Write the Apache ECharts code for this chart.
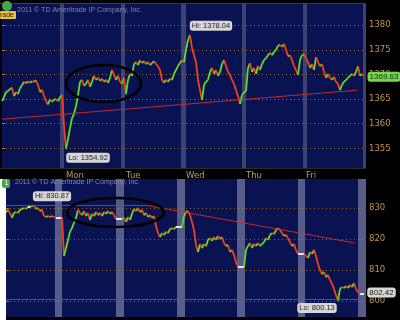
<!DOCTYPE html>
<html><head><meta charset="utf-8">
<script src="https://cdn.jsdelivr.net/npm/echarts@6/dist/echarts.min.js"></script>
<style>html,body{margin:0;padding:0;background:#000;}#c{width:400px;height:320px;}</style>
</head><body><div id="c"></div>
<script>
// ---- data ----
const dayLabels = ['Mon', 'Tue', 'Wed', 'Thu', 'Fri'];
const copyrightText = '2011 \u00a9 TD Ameritrade IP Company, Inc.';
// upper panel (index level, ~2-bar steps)
const spxPrices = [
1364.6,1365.4,1366.4,1366.6,1367.0,1367.3,1365.6,1366.4,1366.0,1367.2,
1367.8,1368.5,1368.2,1368.6,1368.3,1368.6,1368.5,1368.8,1367.9,1366.4,
1366.9,1365.6,1364.6,1363.9,1365.0,1364.4,1364.9,1365.0,1364.6,1365.4,
1365.8,1359.5,1354.92,1356.9,1359.1,1361.1,1362.0,1363.6,1365.8,1368.5,
1368.9,1367.7,1368.1,1368.9,1367.5,1368.5,1369.7,1368.9,1369.3,1368.7,
1369.1,1368.5,1368.9,1368.3,1369.3,1370.9,1369.9,1368.9,1369.7,1368.5,
1368.1,1369.3,1366.0,1368.9,1370.1,1369.7,1372.1,1372.5,1371.9,1372.9,
1372.3,1372.7,1372.1,1372.5,1371.9,1372.3,1372.7,1372.1,1371.7,1370.9,
1368.9,1368.3,1368.9,1368.5,1369.1,1368.9,1370.1,1370.9,1371.7,1372.3,
1372.9,1372.5,1375.0,1377.0,1378.04,1375.4,1373.9,1372.5,1368.9,1366.8,
1364.8,1367.9,1368.5,1368.9,1370.5,1371.3,1370.1,1370.9,1369.7,1370.5,
1372.1,1372.9,1371.7,1370.5,1369.9,1368.9,1368.1,1366.8,1365.6,1364.0,
1365.8,1366.4,1366.6,1371.3,1372.3,1370.5,1371.3,1370.1,1371.7,1370.9,
1372.1,1372.9,1373.3,1373.9,1374.4,1373.9,1374.6,1375.0,1375.8,1376.0,
1375.6,1376.2,1375.0,1373.7,1373.9,1372.9,1371.7,1370.9,1369.9,1372.9,
1373.9,1374.1,1373.3,1372.5,1371.3,1372.1,1370.9,1373.5,1372.5,1371.7,
1372.1,1370.5,1369.3,1370.1,1369.3,1368.9,1369.5,1368.5,1368.1,1366.8,
1367.9,1368.5,1368.9,1369.3,1369.7,1370.1,1369.7,1370.5,1371.7,1369.7,
1370.1,1369.63];
// lower panel
const rutPrices = [
828.7,829.4,828.4,826.8,828.4,828.7,828.4,829.4,829.7,830.0,
829.7,830.3,830.3,830.6,830.87,829.7,830.0,829.0,829.4,827.4,
827.1,827.4,827.1,827.4,827.1,826.9,826.9,826.9,826.9,814.5,
817.1,819.7,822.3,823.5,825.2,826.8,829.4,828.4,827.7,829.0,
827.4,828.4,826.1,828.1,827.4,828.7,827.7,828.4,827.4,828.7,
828.1,829.0,828.1,828.7,827.7,826.5,826.5,826.5,826.5,826.8,
825.5,827.1,826.1,828.1,829.7,829.0,830.0,828.7,829.4,827.7,
828.4,827.1,827.7,826.8,827.4,824.2,821.9,820.6,821.9,821.3,
822.3,821.9,823.2,823.5,823.2,823.9,823.9,823.9,823.9,827.4,
828.7,829.0,827.7,825.5,822.9,818.1,815.8,818.4,817.1,818.4,
817.7,819.7,820.3,819.4,820.6,819.7,821.0,820.0,820.6,818.7,
817.7,818.1,815.8,816.5,814.8,812.6,811.0,811.0,811.0,811.0,
816.5,817.7,818.7,817.1,818.4,817.7,818.7,817.7,818.4,819.0,
820.3,819.7,821.3,821.9,821.6,822.9,823.5,822.9,821.9,821.0,
821.3,820.3,819.0,817.7,818.4,816.5,815.2,815.2,815.2,815.2,
814.5,813.9,815.8,815.2,816.5,814.5,811.9,810.0,808.7,809.4,
807.7,808.4,806.8,805.5,803.9,801.9,800.13,803.9,804.5,804.2,
804.8,804.2,805.2,804.5,805.8,803.9,802.9,802.42,802.42,802.42];
// extended-hours bands (bar index ranges)
const spxBands = [[29,31],[59.5,61.5],[89.5,92],[120,122],[150.5,152.5],[180.5,182]];
const rutBands = [[24.5,28],[55,59],[85.5,89.5],[115.5,119.5],[146,149.5],[176,180]];
// drawn trend lines [[x1,y1],[x2,y2]]
const spxTrend = [[0,1360.9],[177.5,1366.8]];
const rutSupport = [[0,800.6],[180,800.6]];
const rutTopFlat = [[0,830.8],[70.5,830.8]];
const rutDownTrend = [[70.5,830.8],[174.5,818.7]];

// ---- styles ----
const GREEN = '#62dc22', RED = '#f2401e', FLAT = '#e6e6e6';
const NAVY = '#0a1352';
const AXIS_TXT = '#c39350';

function segs(p, flatColor) {
  const out = [];
  for (let i = 0; i < p.length - 1; i++) {
    const d = p[i + 1] - p[i];
    const c = d > 0 ? GREEN : (d < 0 ? RED : flatColor);
    out.push({ coords: [[i, p[i]], [i + 1, p[i + 1]]], lineStyle: { color: c, width: flatColor === FLAT && d === 0 ? 2 : 1.8 } });
  }
  return out;
}
function extreme(p, fn) {
  const v = fn(...p); return [p.indexOf(v), v];
}
function lbl(text, dx, dy, bg, fg, size) {
  return { show: true, position: 'inside', offset: [dx, dy], formatter: text, backgroundColor: bg, color: fg,
    borderRadius: 3, padding: [1, 2, 0, 2], fontSize: size || 7.5, fontFamily: 'Liberation Sans', lineHeight: 9 };
}
const spxHi = extreme(spxPrices, Math.max), spxLo = extreme(spxPrices, Math.min);
const rutHi = extreme(rutPrices, Math.max), rutLo = extreme(rutPrices, Math.min);
const spxLast = [spxPrices.length - 1, spxPrices[spxPrices.length - 1]];
const rutLast = [rutPrices.length - 1, rutPrices[rutPrices.length - 1]];
const trendStyle = { color: '#d82a22', width: 1, type: 'solid', opacity: 0.9 };
function ml(segList) {
  return { silent: true, symbol: ['none', 'none'], label: { show: false }, lineStyle: trendStyle,
    data: segList.map(s => [{ coord: s[0] }, { coord: s[1] }]) };
}

const chart = echarts.init(document.getElementById('c'), null, { renderer: 'canvas' });
const yAxisCommon = {
  type: 'value', position: 'right', scale: true,
  axisLine: { show: false },
  axisTick: { show: true, length: 3, lineStyle: { color: '#a87a38' } },
  axisLabel: { color: AXIS_TXT, fontSize: 8.5, fontFamily: 'DejaVu Sans', margin: 3, showMinLabel: false, showMaxLabel: false,
    formatter: v => String(Math.round(v)) },
  splitLine: { show: true, showMinLine: false, showMaxLine: false, lineStyle: { color: '#8a6432', type: [1, 3], width: 1 } }
};
chart.setOption({
  animation: false,
  backgroundColor: '#000',
  grid: [
    { left: 2, top: 4, width: 364, height: 164, show: true, backgroundColor: NAVY, borderWidth: 0 },
    { left: 6, top: 179, width: 360, height: 138, show: true, backgroundColor: NAVY, borderWidth: 0 }
  ],
  xAxis: [
    { gridIndex: 0, type: 'value', min: 0, max: 182, show: false },
    { gridIndex: 1, type: 'value', min: 0, max: 180, interval: 30, position: 'top',
      axisLine: { show: false }, axisTick: { show: false }, splitLine: { show: false },
      axisLabel: { show: true, color: '#b89a68', fontSize: 8.5, fontFamily: 'DejaVu Sans', margin: -1, align: 'left',
        showMinLabel: false, showMaxLabel: false,
        formatter: v => dayLabels[v / 30 - 1] || '' } }
  ],
  yAxis: [
    Object.assign({ gridIndex: 0, min: 1351.0, max: 1384.3 }, yAxisCommon),
    Object.assign({ gridIndex: 1, min: 794.84, max: 839.35 }, yAxisCommon)
  ],
  series: [
    { type: 'line', xAxisIndex: 0, yAxisIndex: 0, data: spxPrices.map((v, i) => [i, v]), symbol: 'none', silent: true,
      lineStyle: { opacity: 0 }, z: 1,
      markArea: { silent: true, itemStyle: { color: 'rgba(150,150,175,0.36)' }, data: spxBands.map(b => [{ xAxis: b[0] }, { xAxis: b[1] }]) } },
    { type: 'line', xAxisIndex: 1, yAxisIndex: 1, data: rutPrices.map((v, i) => [i, v]), symbol: 'none', silent: true,
      lineStyle: { opacity: 0 }, z: 1,
      markArea: { silent: true, itemStyle: { color: 'rgba(165,165,190,0.5)' }, data: rutBands.map(b => [{ xAxis: b[0] }, { xAxis: b[1] }]) } },
    { type: 'lines', coordinateSystem: 'cartesian2d', xAxisIndex: 0, yAxisIndex: 0, silent: true, z: 4,
      lineStyle: { width: 1.8, opacity: 1 }, data: segs(spxPrices, GREEN) },
    { type: 'lines', coordinateSystem: 'cartesian2d', xAxisIndex: 1, yAxisIndex: 1, silent: true, z: 4,
      lineStyle: { width: 1.8, opacity: 1 }, data: segs(rutPrices, FLAT) },
    { type: 'line', xAxisIndex: 0, yAxisIndex: 0, data: spxPrices.map((v, i) => [i, v]), symbol: 'none', silent: true,
      lineStyle: { opacity: 0 }, z: 6,
      markLine: ml([spxTrend]),
      markPoint: { silent: true, symbol: 'circle', symbolSize: 0, data: [
        { coord: spxHi, value: spxHi[1], label: lbl('Hi: ' + spxHi[1].toFixed(2), 21, -9, '#d6d6d6', '#222') },
        { coord: spxLo, value: spxLo[1], label: lbl('Lo: ' + spxLo[1].toFixed(2), 22, 9, '#d6d6d6', '#222') },
        { coord: spxLast, value: spxLast[1], label: lbl(spxLast[1].toFixed(2), 20, 0.5, '#76d84c', '#0c2a08', 8) }
      ] } },
    { type: 'line', xAxisIndex: 1, yAxisIndex: 1, data: rutPrices.map((v, i) => [i, v]), symbol: 'none', silent: true,
      lineStyle: { opacity: 0 }, z: 6,
      markLine: ml([rutSupport, rutTopFlat, rutDownTrend]),
      markPoint: { silent: true, symbol: 'circle', symbolSize: 0, data: [
        { coord: rutHi, value: rutHi[1], label: lbl('Hi: ' + rutHi[1].toFixed(2), 18, -9, '#d6d6d6', '#222') },
        { coord: rutLo, value: rutLo[1], label: lbl('Lo: ' + rutLo[1].toFixed(2), -21, 7.5, '#d6d6d6', '#222') },
        { coord: rutLast, value: rutLast[1], label: lbl(rutLast[1].toFixed(2), 17.5, -1, '#d6d6d6', '#111', 8) }
      ] } }
  ],
  graphic: [
    { type: 'rect', shape: { x: 0, y: 179, width: 6, height: 141 }, style: { fill: '#ffffff' }, z: 10 },
    { type: 'line', shape: { x1: 0, y1: 3.5, x2: 366, y2: 3.5 }, style: { stroke: '#3a3f58', lineWidth: 1 }, z: 10 },
    { type: 'line', shape: { x1: 0, y1: 168.5, x2: 366, y2: 168.5 }, style: { stroke: '#2a2a2a', lineWidth: 1 }, z: 10 },
    { type: 'circle', shape: { cx: 7, cy: 6, r: 5 }, style: { fill: '#47a84a' }, z: 10 },
    { type: 'rect', shape: { x: 0, y: 11, width: 16, height: 8, r: 1 }, style: { fill: '#f0c23a' }, z: 10 },
    { type: 'text', x: 0, y: 15.5, style: { text: 'rade', fill: '#222', font: '7px "Liberation Sans"', verticalAlign: 'middle' }, z: 11 },
    { type: 'text', x: 17, y: 10.5, style: { text: copyrightText, fill: '#7d86ac', font: '7px "Liberation Sans"', verticalAlign: 'middle' }, z: 10 },
    { type: 'rect', shape: { x: 2, y: 179, width: 8, height: 9, r: 2 }, style: { fill: '#4aa84a' }, z: 11 },
    { type: 'text', x: 4.5, y: 183.5, style: { text: '1', fill: '#fff', font: '7px "Liberation Sans"', verticalAlign: 'middle' }, z: 12 },
    { type: 'text', x: 15, y: 182.5, style: { text: copyrightText, fill: '#7d86ac', font: '7px "Liberation Sans"', verticalAlign: 'middle' }, z: 10 },
    { type: 'ellipse', shape: { cx: 103.5, cy: 83.5, rx: 37.5, ry: 18.5 }, style: { fill: 'none', stroke: '#000', lineWidth: 2.6 }, z: 20 },
    { type: 'ellipse', shape: { cx: 115.5, cy: 212.5, rx: 48.5, ry: 14.5 }, style: { fill: 'none', stroke: '#000', lineWidth: 2.6 }, z: 20 }
  ]
});
</script></body></html>
